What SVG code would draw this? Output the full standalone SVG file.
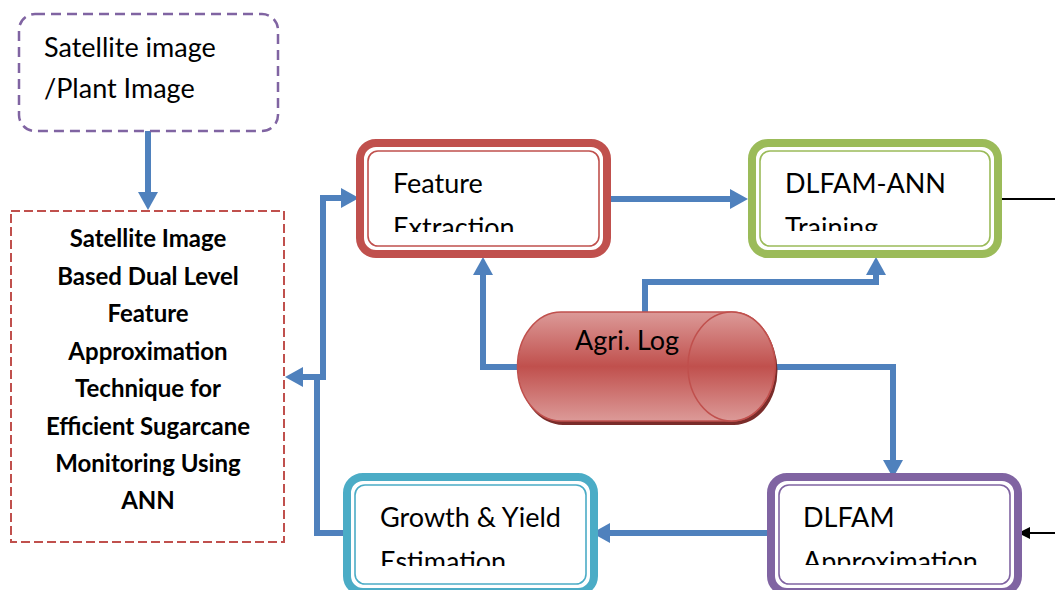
<svg xmlns="http://www.w3.org/2000/svg" width="1055" height="590" viewBox="0 0 1055 590">
<defs>
<style>
.lbl{font-family:Lato,"Open Sans","Liberation Sans",sans-serif;font-size:27px;fill:#000}
.bold{font-family:Lato,"Open Sans","Liberation Sans",sans-serif;font-size:24px;font-weight:bold;fill:#000;text-anchor:middle}
.conn{fill:none;stroke:#4F81BD;stroke-width:6}
.blk{fill:none;stroke:#000;stroke-width:2}
.inner{fill:none;stroke-width:1.6}
</style>
<marker id="ab" viewBox="0 0 18 20" refX="2" refY="10" markerWidth="18" markerHeight="20" markerUnits="userSpaceOnUse" orient="auto">
<path d="M0,0 L18,10 L0,20 z" fill="#4F81BD"/>
</marker>
<marker id="ak" viewBox="0 0 12 12" refX="1" refY="6" markerWidth="12" markerHeight="12" markerUnits="userSpaceOnUse" orient="auto">
<path d="M0,0 L12,6 L0,12 z" fill="#000"/>
</marker>
<linearGradient id="cyl" x1="0" y1="0" x2="0" y2="1">
<stop offset="0" stop-color="#DC9A98"/>
<stop offset="0.5" stop-color="#C0504D"/>
<stop offset="1" stop-color="#DC9A98"/>
</linearGradient>
<clipPath id="c1"><rect x="360" y="140" width="250" height="92"/></clipPath>
<clipPath id="c2"><rect x="750" y="140" width="250" height="91"/></clipPath>
<clipPath id="c3"><rect x="345" y="475" width="250" height="91"/></clipPath>
<clipPath id="c4"><rect x="770" y="475" width="250" height="90"/></clipPath>
</defs>
<rect width="1055" height="590" fill="#fff"/>

<g id="connectors">
<path class="conn" d="M148,131 V194" marker-end="url(#ab)"/>
<path class="conn" d="M611,199 H732" marker-end="url(#ab)"/>
<path class="conn" d="M518,367 H483 V273" marker-end="url(#ab)"/>
<path class="conn" d="M645,313 V282 H876 V273" marker-end="url(#ab)"/>
<path class="conn" d="M774,367 H893 V462" marker-end="url(#ab)"/>
<path class="conn" d="M768,533 H608" marker-end="url(#ab)"/>
<path class="conn" d="M348,533 H317 V377 H301" marker-end="url(#ab)"/>
<path class="conn" d="M320,377 H323 V198 H343" marker-end="url(#ab)"/>
<path class="blk" d="M1002,199 H1055"/>
<path class="blk" d="M1055,533 H1029" marker-end="url(#ak)"/>
</g>

<g id="input">
<rect x="19" y="14" width="259" height="117" rx="16" fill="none" stroke="#8064A2" stroke-width="2.5" stroke-dasharray="10,6"/>
<text class="lbl" x="44" y="57">Satellite image</text>
<text class="lbl" x="44" y="98">/Plant Image</text>
</g>

<g id="title">
<rect x="11" y="211" width="273" height="331" fill="none" stroke="#C0504D" stroke-width="2" stroke-dasharray="9,4"/>
<text class="bold" x="148" y="247">Satellite Image</text>
<text class="bold" x="148" y="285">Based Dual Level</text>
<text class="bold" x="148" y="322">Feature</text>
<text class="bold" x="148" y="360">Approximation</text>
<text class="bold" x="148" y="397">Technique for</text>
<text class="bold" x="148" y="435">Efficient Sugarcane</text>
<text class="bold" x="148" y="472">Monitoring Using</text>
<text class="bold" x="148" y="509">ANN</text>
</g>

<g id="feature">
<rect x="360" y="143" width="247" height="111" rx="16" fill="#fff" stroke="#C0504D" stroke-width="8"/>
<rect x="368" y="151" width="231" height="95" rx="10" class="inner" stroke="#C0504D"/>
<g clip-path="url(#c1)">
<text class="lbl" x="393" y="193">Feature</text>
<text class="lbl" x="393" y="237">Extraction</text>
</g>
</g>

<g id="training">
<rect x="752" y="143" width="246" height="111" rx="16" fill="#fff" stroke="#9BBB59" stroke-width="8"/>
<rect x="760" y="151" width="230" height="95" rx="10" class="inner" stroke="#9BBB59"/>
<g clip-path="url(#c2)">
<text class="lbl" x="785" y="193">DLFAM-ANN</text>
<text class="lbl" x="785" y="237">Training</text>
</g>
</g>

<g id="agrilog">
<path d="M563,316 H734 A43.5,54.5 0 0 1 734,425 H563 A43.5,54.5 0 0 1 563,316 Z" fill="#7A2C2A"/>
<path d="M561,312 H731.5 A43.5,54.5 0 0 1 731.5,421 H561 A43.5,54.5 0 0 1 561,312 Z" fill="url(#cyl)" stroke="#C0504D" stroke-width="1.5"/>
<ellipse cx="731.5" cy="366.5" rx="43.5" ry="54.5" fill="url(#cyl)" stroke="#C0504D" stroke-width="1.5"/>
<text class="lbl" x="575" y="350">Agri. Log</text>
</g>

<g id="growth">
<rect x="347" y="477" width="247" height="115" rx="16" fill="#fff" stroke="#4BACC6" stroke-width="8"/>
<rect x="355" y="485" width="231" height="99" rx="10" class="inner" stroke="#4BACC6"/>
<g clip-path="url(#c3)">
<text class="lbl" x="380" y="527">Growth &amp; Yield</text>
<text class="lbl" x="380" y="571">Estimation</text>
</g>
</g>

<g id="approx">
<rect x="771" y="477" width="247" height="115" rx="16" fill="#fff" stroke="#8064A2" stroke-width="8"/>
<rect x="779" y="485" width="231" height="99" rx="10" class="inner" stroke="#8064A2"/>
<g clip-path="url(#c4)">
<text class="lbl" x="803" y="527">DLFAM</text>
<text class="lbl" x="803" y="571">Approximation</text>
</g>
</g>
</svg>
